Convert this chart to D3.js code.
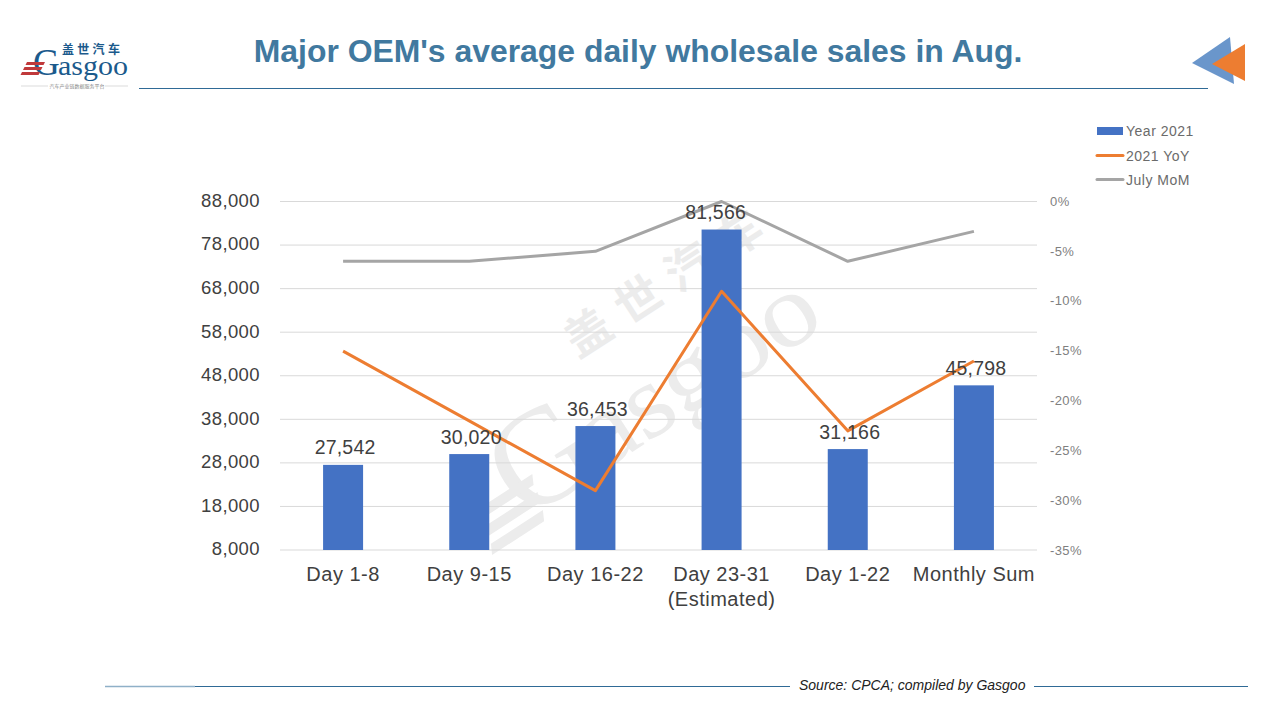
<!DOCTYPE html>
<html><head><meta charset="utf-8">
<script src="https://cdn.jsdelivr.net/npm/d3@7"></script>
<style>html,body{margin:0;padding:0;background:#fff;overflow:hidden}svg{display:block}text{font-family:"Liberation Sans",Arial,sans-serif}</style>
</head><body>
<script>
const categories=["Day 1-8","Day 9-15","Day 16-22","Day 23-31\n(Estimated)","Day 1-22","Monthly Sum"];
const year2021=[27542,30020,36453,81566,31166,45798];
const yoy=[-15,-22,-29,-9,-23,-16];
const mom=[-6,-6,-5,0,-6,-3];
const leftTicks=[8000,18000,28000,38000,48000,58000,68000,78000,88000];
const rightTicks=[0,-5,-10,-15,-20,-25,-30,-35];
const legendItems=["Year 2021","2021 YoY","July MoM"];
const titleText="Major OEM's average daily wholesale sales in Aug.";
const sourceText="Source: CPCA; compiled by Gasgoo";

const svg=d3.select("body").append("svg").attr("width",1280).attr("height",720);
const BLUE="#4472c4",ORANGE="#ed7d31",GRAY="#a5a5a5",NAVY="#2f6a96";

// watermark
const wm=svg.append("g").attr("transform","translate(640,385) rotate(-33)").attr("fill","#ececec");
wm.append("text").attr("x",-172).attr("y",52).attr("font-size",138).style("font-family","'Liberation Serif',serif").text("G");
wm.append("text").attr("x",-78).attr("y",52).attr("font-size",104).attr("textLength",268).attr("lengthAdjust","spacingAndGlyphs").style("font-family","'Liberation Serif',serif").text("asgoo");
wm.append("text").attr("x",-38).attr("y",-56).attr("font-size",46).attr("letter-spacing",14).style("font-family","'Noto Sans CJK SC'").attr("font-weight",700).text("盖世汽车");
wm.selectAll("path.w").data([16,34,52]).join("path").attr("class","w")
 .attr("d",d=>`M${-196-d*0.3},${d} h62 l-5,10 h-62 z`);

const x=d3.scaleBand().domain(categories).range([280,1037]);
const y=d3.scaleLinear().domain([8000,88000]).range([550,201.5]);
const y2=d3.scaleLinear().domain([-35,0]).range([550.5,201.5]);

// gridlines
svg.append("g").selectAll("line").data(leftTicks).join("line")
 .attr("x1",280).attr("x2",1037).attr("y1",d=>y(d)).attr("y2",d=>y(d))
 .attr("stroke","#d9d9d9").attr("stroke-width",1);

// left axis
const la=svg.append("g").attr("transform","translate(280,-1)").call(d3.axisLeft(y).tickValues(leftTicks).tickFormat(d3.format(",")).tickSize(0).tickPadding(20));
la.select(".domain").remove();
la.selectAll("text").attr("font-size",18.5).attr("letter-spacing",0.4).attr("fill","#404040").style("font-family","'Liberation Sans',Arial,sans-serif");

// right axis
const ra=svg.append("g").attr("transform","translate(1037,-0.5)").call(d3.axisRight(y2).tickValues(rightTicks).tickFormat(d=>d+"%").tickSize(0).tickPadding(13));
ra.select(".domain").remove();
ra.selectAll("text").attr("font-size",13).attr("letter-spacing",0.4).attr("fill","#7f7f7f").style("font-family","'Liberation Sans',Arial,sans-serif");

// category labels
const cl=svg.append("g").selectAll("text").data(categories).join("text")
 .attr("text-anchor","middle").attr("font-size",20).attr("letter-spacing",0.5).attr("fill","#404040")
 .attr("transform",d=>`translate(${x(d)+x.bandwidth()/2},581)`);
cl.selectAll("tspan").data(d=>d.split("\n")).join("tspan").attr("x",0).attr("dy",(d,i)=>i?25:0).text(d=>d);

// bars
const bw=40;
svg.append("g").selectAll("rect").data(year2021).join("rect")
 .attr("x",(d,i)=>x(categories[i])+x.bandwidth()/2-bw/2).attr("width",bw)
 .attr("y",d=>y(d)).attr("height",d=>y(8000)-y(d)).attr("fill",BLUE);

// lines
const line=d3.line().x((d,i)=>x(categories[i])+x.bandwidth()/2).y(d=>y2(d));
svg.append("path").attr("d",line(mom)).attr("fill","none").attr("stroke",GRAY).attr("stroke-width",3).attr("stroke-linejoin","round");
svg.append("path").attr("d",line(yoy)).attr("fill","none").attr("stroke",ORANGE).attr("stroke-width",3).attr("stroke-linejoin","round");

// bar labels (the tallest bar's label sits a little left of centre in the reference)
svg.append("g").selectAll("text").data(year2021).join("text")
 .attr("x",(d,i)=>x(categories[i])+x.bandwidth()/2+(i===3?-6:2)).attr("y",d=>y(d)-10.5)
 .attr("text-anchor","middle").attr("font-size",19.5).attr("letter-spacing",0.2).attr("fill","#404040").text(d3.format(","));

// legend
const lg=svg.append("g").selectAll("g").data(legendItems).join("g").attr("transform",(d,i)=>`translate(1097,${[131,155.5,179.5][i]})`);
lg.append("text").attr("x",29).attr("y",5).attr("font-size",14).attr("letter-spacing",0.5).attr("fill","#6b6b6b").text(d=>d);
lg.filter((d,i)=>i===0).append("rect").attr("x",0).attr("y",-4).attr("width",26).attr("height",8).attr("fill",BLUE);
lg.filter((d,i)=>i>0).append("line").attr("x1",0).attr("x2",26).attr("stroke",(d,i)=>i?GRAY:ORANGE).attr("stroke-width",3).attr("stroke-linecap","round");

// title
svg.append("text").attr("x",638).attr("y",62).attr("text-anchor","middle").attr("font-size",31.9).attr("font-weight",700).attr("fill","#41799f").text(titleText);

// header rule + arrows
svg.append("line").attr("x1",139).attr("x2",1208).attr("y1",88.5).attr("y2",88.5).attr("stroke",NAVY).attr("stroke-width",1);
svg.append("path").attr("d","M1192,63 L1230,37 L1234,84 Z").attr("fill","#6a96cb");
svg.append("path").attr("d","M1212,64 L1245,44 L1245,81 Z").attr("fill","#ed7d31");

// footer
svg.append("line").attr("x1",105).attr("x2",790).attr("y1",686.5).attr("y2",686.5).attr("stroke",NAVY).attr("stroke-width",1);
svg.append("line").attr("x1",105).attr("x2",195).attr("y1",686.5).attr("y2",686.5).attr("stroke","#8fb0c8").attr("stroke-width",1.5);
svg.append("line").attr("x1",1034).attr("x2",1248).attr("y1",686.5).attr("y2",686.5).attr("stroke",NAVY).attr("stroke-width",1);
svg.append("text").attr("x",799).attr("y",690).attr("font-size",14).attr("font-style","italic").attr("fill","#222").text(sourceText);

// logo
const logo=svg.append("g");
logo.append("text").attr("x",33).attr("y",75).attr("font-size",37).style("font-family","'Liberation Serif',serif").attr("fill","#1b5a8c").text("G");
logo.append("text").attr("x",58).attr("y",75).attr("font-size",27).attr("textLength",70).attr("lengthAdjust","spacingAndGlyphs").style("font-family","'Liberation Serif',serif").attr("fill","#1b5a8c").text("asgoo");
logo.append("text").attr("x",62).attr("y",54).attr("font-size",12).attr("font-weight",700).attr("letter-spacing",3.3).style("font-family","'Noto Sans CJK SC'").attr("fill","#1b5a8c").text("盖世汽车");
logo.selectAll("path.s").data([62,67,72]).join("path").attr("class","s")
 .attr("d",d=>`M${27-(d-62)*0.5},${d} h18 l-1.5,3 h-18 z`).attr("fill","#c0393b");
logo.append("line").attr("x1",21).attr("x2",48).attr("y1",86).attr("y2",86).attr("stroke","#ccc").attr("stroke-width",.7);
logo.append("line").attr("x1",105).attr("x2",128).attr("y1",86).attr("y2",86).attr("stroke","#ccc").attr("stroke-width",.7);
logo.append("text").attr("x",77).attr("y",88).attr("text-anchor","middle").attr("font-size",5).style("font-family","'Noto Sans CJK SC'").attr("fill","#888").text("汽车产业链数据服务平台");
</script>
</body></html>
